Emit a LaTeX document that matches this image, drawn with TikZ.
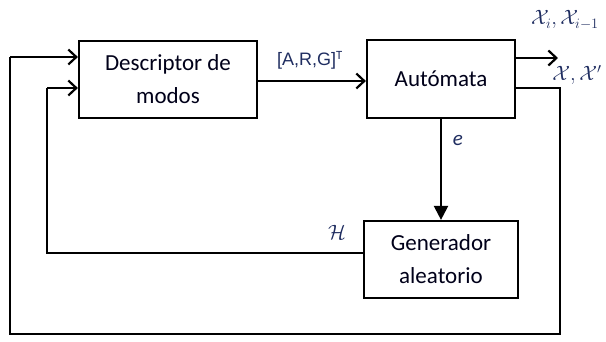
\documentclass[tikz,border=0pt]{standalone}
\usepackage{fontspec}
\setmainfont{Carlito}
\newfontfamily\arialfont{Liberation Sans}
\usepackage{tikz}
\usetikzlibrary{arrows.meta}
\usetikzlibrary{calc}
\usetikzlibrary{positioning}
\definecolor{navy}{RGB}{31,45,96}
\tikzset{
    block/.style={
        draw,
        line width=2.2pt,
        align=center,
        font=\fontsize{23}{33}\selectfont,
        text=black!90!blue
    },
    link/.style={
        line width=2.2pt,
        -{Straight Barb[length=8pt,width=15pt,line width=2.2pt]}
    },
    plain link/.style={
        line width=2.2pt
    },
    tag/.style={
        text=navy,
        font=\fontsize{21}{24}\selectfont
    }
}
\begin{document}
\begin{tikzpicture}[x=1pt,y=-1pt]
  \useasboundingbox (0,0) rectangle (606,341);
  \node[block,minimum width=178pt,minimum height=77pt] (desc) at (168,79.5) {Descriptor de\\modos};
  \node[block,minimum width=148pt,minimum height=78pt] (aut) at (441,79) {Autómata};
  \node[block,minimum width=154pt,minimum height=77pt] (gen) at (441,259.5) {Generador\\aleatorio};
  % salidas y lazos
  \coordinate (out) at (558,58);
  \coordinate (r1) at (560,88);
  \coordinate (r2) at (560,334);
  \coordinate (r3) at (10,334);
  \coordinate (r4) at (10,57);
  \coordinate (h1) at (47,253);
  \coordinate (h2) at (47,88);
  \draw[link] (desc.east |- 0,81) -- (aut.west |- 0,81);
  \draw[link] (aut.east |- out) -- (out);
  \draw[plain link] (aut.east |- r1) -- (r1) -- (r2) -- (r3) -- (r4);
  \draw[link] (r4) -- (desc.west |- r4);
  \draw[plain link] (gen.west |- h1) -- (h1) -- (h2);
  \draw[link] (h2) -- (desc.west |- h2);
  \draw[line width=2.2pt,-{Triangle[length=14pt,width=14pt]}] (aut.south) -- (gen.north);
  % etiquetas
  \node[tag,font=\arialfont\fontsize{18}{22}\selectfont] (argt) at (310,60) {[A,R,G]$^{\mathrm{T}}$};
  \node[tag] (e) at (458,140) {\itshape e};
  \node[tag] (hh) at (337,232) {$\mathcal{H}$};
  \node[tag] (xs) at (565,20) {$\mathcal{X}_i, \mathcal{X}_{i-1}$};
  \node[tag] (xx) at (577,75) {$\mathcal{X}, \mathcal{X}'$};
\end{tikzpicture}
\end{document}
